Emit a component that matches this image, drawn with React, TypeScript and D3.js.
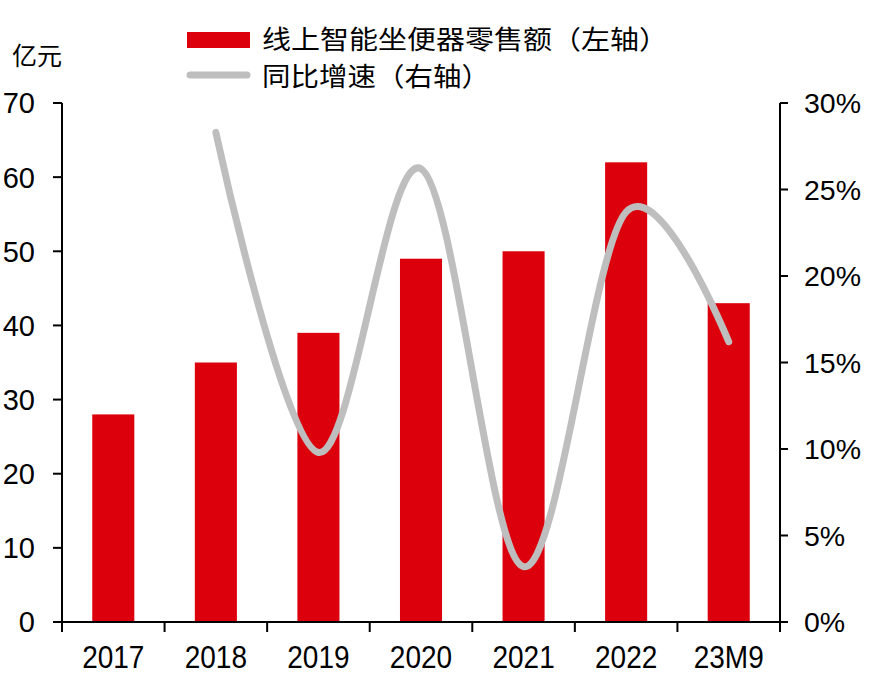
import React from "react";
import * as d3 from "d3";

const categories = ["2017", "2018", "2019", "2020", "2021", "2022", "23M9"];
const salesValues = [28, 35, 39, 49, 50, 62, 43];
const growthValues: (number | null)[] = [null, 28.3, 9.8, 26.2, 3.2, 23.7, 16.2];
const leftTicks = [0, 10, 20, 30, 40, 50, 60, 70];
const rightTicks = [0, 5, 10, 15, 20, 25, 30];
const legendLabels = ["线上智能坐便器零售额（左轴）", "同比增速（右轴）"];
const unitLabel = "亿元";

const W = 870;
const H = 683;
const left = 62;
const right = 780;
const top = 103;
const bottom = 622;
const RED = "#DC000C";
const GRAY = "#BEBEBE";
const FONT = "'Liberation Sans', Arial, sans-serif";
const CJK = "'Noto Sans CJK SC', sans-serif";

export default function App() {
  const x = d3.scaleBand<string>().domain(categories).range([left, right]).paddingInner(0).paddingOuter(0);
  const yL = d3.scaleLinear().domain([0, 70]).range([bottom, top]);
  const yR = d3.scaleLinear().domain([0, 30]).range([bottom, top]);
  const bw = x.bandwidth() * 0.41;
  const pts = categories
    .map((c, i) => ({ c, v: growthValues[i] }))
    .filter((d) => d.v !== null) as { c: string; v: number }[];
  const line = d3
    .line<{ c: string; v: number }>()
    .x((d) => (x(d.c) as number) + x.bandwidth() / 2)
    .y((d) => yR(d.v))
    .curve(d3.curveCardinal.tension(0));
  const boundaries = categories.map((c) => x(c) as number).concat([right]);

  return (
    <svg width={W} height={H} style={{ position: "absolute", left: 0, top: 0, background: "#fff" }}>
      {categories.map((c, i) => (
        <rect key={c} x={(x(c) as number) + (x.bandwidth() - bw) / 2} y={yL(salesValues[i])} width={bw} height={bottom - yL(salesValues[i])} fill={RED} />
      ))}
      <path d={line(pts) || ""} fill="none" stroke={GRAY} strokeWidth={7} strokeLinecap="round" />
      {/* left axis */}
      <line x1={left} x2={left} y1={top} y2={bottom} stroke="#000" strokeWidth={2} />
      {leftTicks.map((t) => (
        <g key={t}>
          <line x1={left - 9} x2={left} y1={yL(t)} y2={yL(t)} stroke="#000" strokeWidth={2} />
          <text x={35} y={yL(t)} dy="0.36em" textAnchor="end" fontSize={29} fontFamily={FONT} fill="#000">{t}</text>
        </g>
      ))}
      {/* right axis */}
      <line x1={right} x2={right} y1={top} y2={bottom} stroke="#000" strokeWidth={2} />
      {rightTicks.map((t) => (
        <g key={t}>
          <line x1={right} x2={right + 8} y1={yR(t)} y2={yR(t)} stroke="#000" strokeWidth={2} />
          <text x={804} y={yR(t)} dy="0.36em" textAnchor="start" fontSize={28.5} fontFamily={FONT} fill="#000">{t + "%"}</text>
        </g>
      ))}
      {/* x axis */}
      <line x1={left - 9} x2={right + 8} y1={bottom} y2={bottom} stroke="#000" strokeWidth={2} />
      {boundaries.map((b, i) => (
        <line key={i} x1={b} x2={b} y1={bottom} y2={bottom + 10} stroke="#000" strokeWidth={2} />
      ))}
      {categories.map((c) => (
        <text key={c} transform={`translate(${(x(c) as number) + x.bandwidth() / 2},668) scale(1,1.13)`} textAnchor="middle" fontSize={28} fontFamily={FONT} fill="#000">{c}</text>
      ))}
      {/* unit */}
      <text x={12} y={65} fontSize={25} fontFamily={CJK} fill="#000">{unitLabel}</text>
      {/* legend */}
      <rect x={187} y={32} width={63} height={16} fill={RED} />
      <text x={262} y={49} fontSize={26} fontFamily={CJK} fill="#000" textLength={406} lengthAdjust="spacingAndGlyphs">{legendLabels[0]}</text>
      <line x1={190} x2={247} y1={75} y2={75} stroke={GRAY} strokeWidth={7} strokeLinecap="round" />
      <text x={262} y={86} fontSize={26} fontFamily={CJK} fill="#000" textLength={228} lengthAdjust="spacingAndGlyphs">{legendLabels[1]}</text>
    </svg>
  );
}
